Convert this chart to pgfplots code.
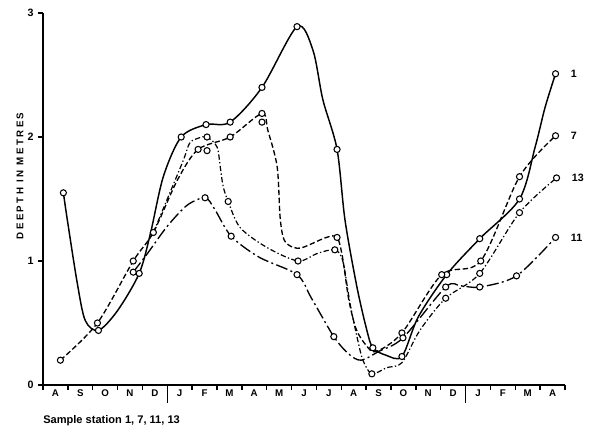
\documentclass[border=0pt]{standalone}
\usepackage{fontspec}
\setmainfont{Liberation Sans}
\usepackage{pgfplots}
\pgfplotsset{compat=1.18}
\begin{document}
\begin{tikzpicture}
\path[use as bounding box] (-32.25pt,-34.5pt) rectangle (417.75pt,288.75pt);
\begin{axis}[
  name=a, at={(0,0)}, anchor=south west,
  scale only axis, width=391.5pt, height=279pt,
  xmin=-0.5, xmax=20.5, ymin=0, ymax=3,
  axis x line*=bottom, axis y line*=left,
  axis line style={line width=1.4pt},
  clip=false,
  tick align=outside, major tick length=3.5pt,
  tick style={black, line width=1pt},
  ytick={0,1,2,3}, yticklabels={0,1,2,3},
  yticklabel style={font=\fontsize{8}{9}\selectfont\bfseries},
  xtick={-0.5,0.5,...,20.5},
  xticklabels={A,S,O,N,D,J,F,M,A,M,J,J,A,S,O,N,D,J,F,M,A,{}},
  xticklabel style={font=\fontsize{7.3}{8}\selectfont\bfseries, xshift=9.3pt, yshift=3.75pt},
  extra x ticks={4.5,16.5}, extra x tick labels={},
  extra x tick style={major tick length=13.5pt},
  ylabel={DEEPTH IN METRES},
  ylabel style={at={(axis description cs:-0.044,0.562)}, anchor=center,
    font=\fontsize{7.3}{8}\selectfont\bfseries\addfontfeature{LetterSpace=25}},
]
% Station 1 (solid)
\addplot[black, line width=1.1pt, smooth] coordinates {
(0.32,1.55)(0.48,1.33)(0.88,0.82)(1.2,0.52)(1.73,0.44)(2.5,0.6)(3.37,0.90)(3.82,1.22)(4.34,1.68)(5.06,2.0)(6.06,2.1)(7.03,2.12)(8.31,2.40)(9.72,2.89)(10.36,2.7)(10.76,2.3)(11.33,1.9)(11.65,1.33)(12.13,0.79)(12.53,0.44)(12.77,0.30)(13.3,0.24)(13.94,0.23)(14.6,0.55)(15.74,0.89)(17.07,1.18)(18.67,1.5)(19.3,1.92)(19.7,2.24)(20.12,2.51)};
% Station 7 (dashed)
\addplot[black, line width=1pt, smooth, dash pattern=on 4pt off 2pt] coordinates {
(0.2,0.2)(1.69,0.5)(3.13,1.0)(3.94,1.23)(4.9,1.65)(5.74,1.9)(7.03,2.0)(8.31,2.19)(8.55,2.05)(8.92,1.76)(9.04,1.35)(9.2,1.17)(9.56,1.11)(9.96,1.11)(10.9,1.19)(11.33,1.19)(11.55,1.03)(11.8,0.69)(12.1,0.45)(12.5,0.32)(12.9,0.27)(13.94,0.42)(15.54,0.89)(17.11,1.0)(18.67,1.68)(20.12,2.01)};
% Station 13 (dash-dot)
\addplot[black, line width=0.9pt, smooth, dash pattern=on 4pt off 1.8pt on 1pt off 1.8pt] coordinates {
(3.94,1.23)(5.1,1.79)(5.4,1.95)(5.74,1.99)(6.10,2.0)(6.5,1.92)(6.63,1.76)(6.75,1.6)(6.95,1.48)(7.43,1.27)(8.5,1.11)(9.76,1.0)(10.52,1.06)(11.24,1.09)(11.56,1.0)(11.85,0.66)(12.13,0.39)(12.37,0.2)(12.73,0.09)(13.33,0.14)(13.94,0.18)(14.66,0.44)(15.70,0.70)(17.07,0.9)(18.67,1.39)(20.16,1.67)};
% Station 11 (long dash-dot)
\addplot[black, line width=1pt, smooth, dash pattern=on 9pt off 2.5pt on 1.5pt off 2.5pt] coordinates {
(3.13,0.91)(3.7,1.06)(4.5,1.28)(5.3,1.45)(6.02,1.51)(6.4,1.42)(7.07,1.2)(8.2,1.03)(9.72,0.89)(10.3,0.7)(11.20,0.39)(11.8,0.25)(12.3,0.2)(13.0,0.27)(13.98,0.38)(15.70,0.79)(16.3,0.8)(17.07,0.79)(18.55,0.88)(20.12,1.19)};
% sample points
\addplot[only marks, mark=*, mark size=2.3pt, mark options={fill=white, draw=black, line width=0.8pt, solid}] coordinates {
(0.32,1.55)(1.73,0.44)(3.37,0.90)(5.06,2.0)(6.06,2.1)(7.03,2.12)(8.31,2.40)(9.72,2.89)(11.33,1.9)(12.77,0.30)(13.94,0.23)(15.74,0.89)(17.07,1.18)(18.67,1.5)(20.12,2.51)
(0.2,0.2)(1.69,0.5)(3.13,1.0)(5.74,1.9)(7.03,2.0)(8.31,2.19)(11.33,1.19)(13.94,0.42)(15.54,0.89)(17.11,1.0)(18.67,1.68)(20.12,2.01)
(3.94,1.23)(6.10,2.0)(6.95,1.48)(9.76,1.0)(11.24,1.09)(12.73,0.09)(15.70,0.70)(17.07,0.9)(18.67,1.39)(20.16,1.67)
(3.13,0.91)(6.02,1.51)(7.07,1.2)(9.72,0.89)(11.20,0.39)(13.98,0.38)(15.70,0.79)(17.07,0.79)(18.55,0.88)(20.12,1.19)
(6.10,1.89)(8.31,2.12)};
\node[anchor=west, font=\fontsize{8}{9}\selectfont\bfseries] at (axis cs:20.12,2.51) [xshift=8pt] {1};
\node[anchor=west, font=\fontsize{8}{9}\selectfont\bfseries] at (axis cs:20.12,2.01) [xshift=8pt] {7};
\node[anchor=west, font=\fontsize{8}{9}\selectfont\bfseries] at (axis cs:20.16,1.67) [xshift=8pt] {13};
\node[anchor=west, font=\fontsize{8}{9}\selectfont\bfseries] at (axis cs:20.12,1.19) [xshift=8pt] {11};
\end{axis}
\node[anchor=west, font=\fontsize{8.3}{9}\selectfont\bfseries, inner sep=0pt] at (0pt,-27pt) {Sample station 1, 7, 11, 13};
\end{tikzpicture}
\end{document}
